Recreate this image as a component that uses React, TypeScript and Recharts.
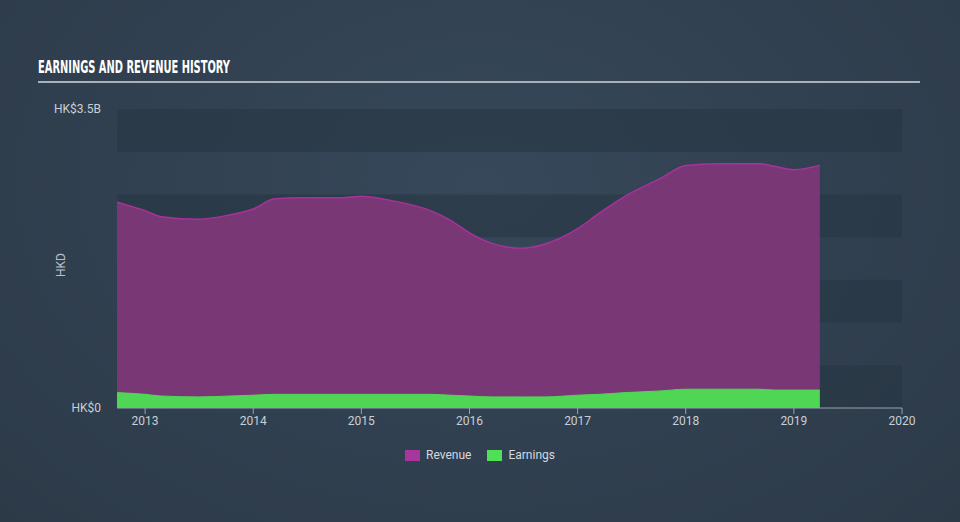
import React from 'react';
import { ComposedChart, Area, XAxis, YAxis, ReferenceArea } from 'recharts';

const years = [2012.74, 2013.0, 2013.15, 2013.5, 2013.78, 2014.0, 2014.2, 2014.45, 2014.8, 2015.0, 2015.27, 2015.64, 2015.82, 2016.0, 2016.2, 2016.47, 2016.7, 2017.0, 2017.2, 2017.44, 2017.77, 2018.0, 2018.3, 2018.68, 2018.82, 2019.0, 2019.24];
const revenue = [2.41, 2.31, 2.24, 2.21, 2.26, 2.33, 2.45, 2.46, 2.46, 2.48, 2.43, 2.31, 2.2, 2.05, 1.93, 1.87, 1.92, 2.1, 2.28, 2.48, 2.69, 2.84, 2.86, 2.86, 2.83, 2.79, 2.84];
const earnings = [0.18, 0.16, 0.14, 0.13, 0.14, 0.15, 0.16, 0.16, 0.16, 0.16, 0.16, 0.16, 0.15, 0.14, 0.13, 0.13, 0.13, 0.15, 0.16, 0.18, 0.2, 0.22, 0.22, 0.22, 0.21, 0.21, 0.21];
const xTicks = [2013, 2014, 2015, 2016, 2017, 2018, 2019, 2020];
const yTicks = [0, 3.5];
const bands = [[3, 3.5], [2, 2.5], [1, 1.5], [0, 0.5]];

const data = years.map((x, i) => ({ x, revenue: revenue[i], earnings: earnings[i] }));

const REV_FILL = '#7a3776';
const REV_STROKE = '#a8329a';
const EARN_FILL = '#50d655';

export default function App() {
  return (
    <div style={{ position: 'absolute', left: 0, top: 0, width: 960, height: 522, overflow: 'hidden',
      background: 'radial-gradient(ellipse at 50% 35%, #36485a 0%, #314050 55%, #2c3a48 100%)' }}>
      <div style={{ position: 'absolute', left: 38, top: 56, color: '#ffffff', fontFamily: '"DejaVu Sans Condensed", sans-serif', fontWeight: 'bold', fontSize: 18, whiteSpace: 'nowrap', transform: 'scaleX(0.61)', transformOrigin: 'left top' }}>
        EARNINGS AND REVENUE HISTORY
      </div>
      <div style={{ position: 'absolute', left: 38, top: 81, width: 882, height: 2, background: '#a9b0b9' }} />
      <div style={{ position: 'absolute', left: 49, top: 258, color: '#b9c0c8', fontFamily: 'Roboto, sans-serif', fontSize: 12, transform: 'rotate(-90deg)', transformOrigin: 'center' }}>
        HKD
      </div>
      <ComposedChart width={960} height={522} data={data} margin={{ top: 109, right: 58, bottom: 84, left: 47 }}>
        {bands.map((b, i) => (
          <ReferenceArea key={i} y1={b[0]} y2={b[1]} fill="#273442" fillOpacity={0.55} stroke="none" ifOverflow="hidden" />
        ))}
        <XAxis dataKey="x" type="number" domain={[2012.74, 2020]} ticks={xTicks} allowDataOverflow height={30}
          axisLine={{ stroke: '#98a2ae' }} tickLine={{ stroke: '#98a2ae' }} tickSize={6} tickMargin={2}
          tick={{ fill: '#c9cfd6', fontSize: 12, fontFamily: 'Roboto, sans-serif' }} />
        <YAxis type="number" domain={[0, 3.5]} ticks={yTicks} width={70} axisLine={false} tickLine={false}
          tickSize={0} tickMargin={16}
          tickFormatter={(v: number) => (v === 0 ? 'HK$0' : 'HK$' + v + 'B')}
          tick={{ fill: '#c9cfd6', fontSize: 12, fontFamily: 'Roboto, sans-serif' }} />
        <Area type="monotone" dataKey="revenue" name="Revenue" fill={REV_FILL} fillOpacity={1} stroke={REV_STROKE} strokeWidth={1.5} isAnimationActive={false} />
        <Area type="monotone" dataKey="earnings" name="Earnings" fill={EARN_FILL} fillOpacity={1} stroke={EARN_FILL} strokeWidth={1} isAnimationActive={false} />
      </ComposedChart>
      <div style={{ position: 'absolute', left: 0, top: 448, width: 960, display: 'flex', justifyContent: 'center', gap: 16, fontFamily: 'Roboto, sans-serif', fontSize: 12, color: '#d4d9df' }}>
        <span style={{ display: 'flex', alignItems: 'center', gap: 6 }}>
          <span style={{ width: 15, height: 11, background: '#a8369c', display: 'inline-block' }} />Revenue
        </span>
        <span style={{ display: 'flex', alignItems: 'center', gap: 6 }}>
          <span style={{ width: 15, height: 11, background: '#50e055', display: 'inline-block' }} />Earnings
        </span>
      </div>
    </div>
  );
}
